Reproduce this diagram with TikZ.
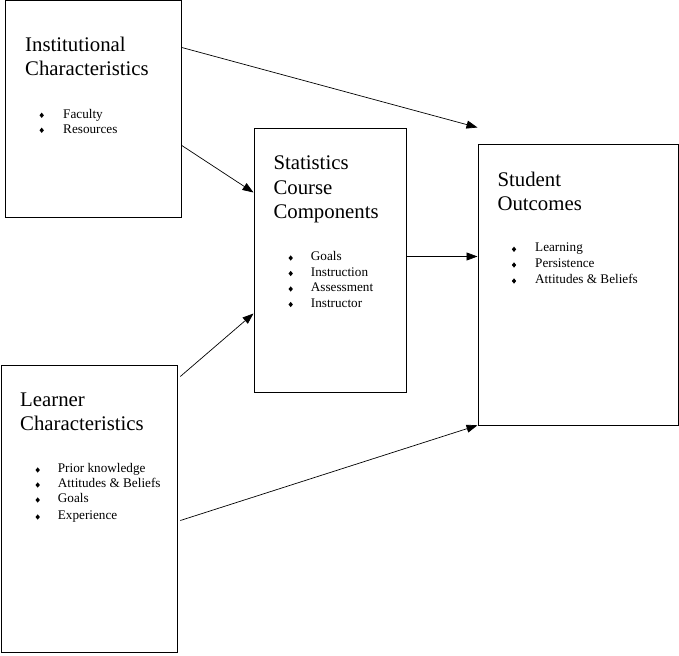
\documentclass[tikz,border=0pt]{standalone}
\usepackage{fontspec}
\setmainfont{Liberation Serif}
\usetikzlibrary{arrows.meta,shapes.geometric}
\begin{document}
\begin{tikzpicture}[x=1pt,y=-1pt,
  box/.style={draw,line width=0.8pt,anchor=north west,inner sep=0pt},
  title/.style={anchor=base west,inner sep=0pt,font=\fontsize{20.8}{24}\selectfont},
  item/.style={anchor=base west,inner sep=0pt,font=\fontsize{13.2}{15}\selectfont},
  bul/.style={diamond,fill=black,inner sep=0pt,minimum width=4.5pt,minimum height=5.5pt},
  arr/.style={line width=0.7pt,-{Triangle[length=11pt,width=8pt]}}]
\useasboundingbox (0,0) rectangle (679,655);
% boxes
\node[box,minimum width=176pt,minimum height=216pt] (inst) at (5,0.5) {};
\node[box,minimum width=152pt,minimum height=263pt] (stat) at (253.5,128.5) {};
\node[box,minimum width=200pt,minimum height=280pt] (out) at (477.5,144.5) {};
\node[box,minimum width=176pt,minimum height=287pt] (learn) at (0.5,364.5) {};
% Institutional
\node[title] (t1a) at (25,52) {Institutional};
\node[title] (t1b) at (25,76) {Characteristics};
\node[bul] (b1a) at (41.7,115.3) {};
\node[item] (i1a) at (63,118.3) {Faculty};
\node[bul] (b1b) at (41.7,130.3) {};
\node[item] (i1b) at (63,133.3) {Resources};
% Statistics
\node[title] (t2a) at (273.3,170) {Statistics};
\node[title] (t2b) at (273.3,194) {Course};
\node[title] (t2c) at (273.3,218) {Components};
\node[bul] (b2a) at (290.7,258) {};
\node[item] (i2a) at (310.7,260.7) {Goals};
\node[bul] (b2b) at (290.7,273.5) {};
\node[item] (i2b) at (310.7,276) {Instruction};
\node[bul] (b2c) at (290.7,289) {};
\node[item] (i2c) at (310.7,291.7) {Assessment};
\node[bul] (b2d) at (290.7,304.5) {};
\node[item] (i2d) at (310.7,307.3) {Instructor};
% Student
\node[title] (t3a) at (497.3,186) {Student};
\node[title] (t3b) at (497.3,210) {Outcomes};
\node[bul] (b3a) at (514,249.3) {};
\node[item] (i3a) at (535,251.7) {Learning};
\node[bul] (b3b) at (514,265) {};
\node[item] (i3b) at (535,267.3) {Persistence};
\node[bul] (b3c) at (514,281) {};
\node[item] (i3c) at (535,283.3) {Attitudes \& Beliefs};
% Learner
\node[title] (t4a) at (20,406) {Learner};
\node[title] (t4b) at (20,430) {Characteristics};
\node[bul] (b4a) at (37.7,470) {};
\node[item] (i4a) at (57.7,472.7) {Prior knowledge};
\node[bul] (b4b) at (37.7,485) {};
\node[item] (i4b) at (57.7,487.3) {Attitudes \& Beliefs};
\node[bul] (b4c) at (37.7,500) {};
\node[item] (i4c) at (57.7,502) {Goals};
\node[bul] (b4d) at (37.7,517) {};
\node[item] (i4d) at (57.7,519.5) {Experience};
% arrows
\draw[arr] ([yshift=-47pt]inst.north east) -- ([yshift=17pt]out.north west);
\draw[arr] ([yshift=-145pt]inst.north east) -- ([yshift=-64pt]stat.north west);
\draw[arr] ([yshift=-128pt]stat.north east) -- ([yshift=-112pt]out.north west);
\draw[arr] ([xshift=3pt,yshift=-12pt]learn.north east) -- ([yshift=-185pt]stat.north west);
\draw[arr] ([xshift=3pt,yshift=-156pt]learn.north east) -- (out.south west);
\end{tikzpicture}
\end{document}
